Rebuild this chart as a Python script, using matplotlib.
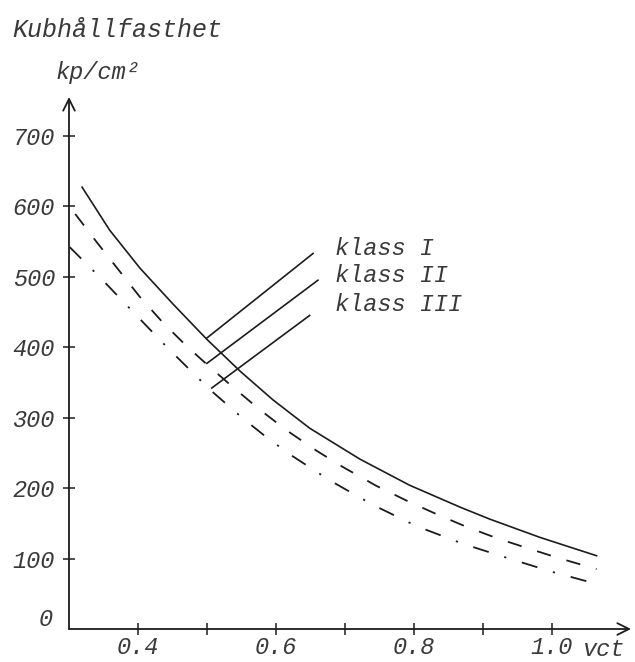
import matplotlib
matplotlib.use("Agg")
from matplotlib import pyplot as plt

# vct (water/cement ratio) vs cube strength kp/cm2
vct_1 = [0.319, 0.359, 0.403, 0.451, 0.500, 0.548, 0.596, 0.649, 0.722, 0.794,
         0.867, 0.910, 0.983, 1.065]
kl_1 = [627, 566, 512, 461, 411, 366, 325, 285, 241, 204, 173, 156, 130, 104]

vct_2 = [0.309, 0.341, 0.370, 0.403, 0.436, 0.471, 0.504, 0.538, 0.577, 0.617,
         0.659, 0.697, 0.746, 0.790, 0.833, 0.874, 0.920, 0.964, 1.009, 1.065]
kl_2 = [589, 548, 512, 471, 435, 401, 372, 343, 311, 281, 253, 230, 203, 182,
        163, 146, 129, 115, 101, 85]

vct_3 = [0.301, 0.346, 0.388, 0.443, 0.504, 0.552, 0.584, 0.620, 0.678, 0.741,
         0.804, 0.871, 0.935, 1.001, 1.065]
kl_3 = [542, 498, 455, 399, 340, 299, 274, 248, 211, 176, 146, 121, 101, 81, 64]

labels = ["klass I", "klass II", "klass III"]
label_x = [0.686, 0.686, 0.686]
label_y = [540, 501, 461]

# leader lines: (x0, x1), (y0, y1)
leader_x = [(0.654, 0.500), (0.661, 0.500), (0.649, 0.507)]
leader_y = [(533, 413), (495, 377), (445, 342)]

x_ticks = [0.4, 0.5, 0.6, 0.7, 0.8, 0.9, 1.0]
x_ticklabels = ["0.4", "", "0.6", "", "0.8", "", "1.0"]
y_ticks = [100, 200, 300, 400, 500, 600, 700]

INK = "#1c1c1c"
TXT = "#3a3a3a"
FONT = dict(family="Liberation Mono", style="italic", color=TXT)
FS = 17

fig = plt.figure(figsize=(6.35, 6.62), dpi=100)
ax = fig.add_axes([69 / 635, 33 / 662, 562 / 635, 532 / 662])
ax.set_xlim(0.3, 1.115)
ax.set_ylim(0, 755)

ax.plot(vct_1, kl_1, color=INK, lw=1.2)
ax.plot(vct_2, kl_2, color=INK, lw=1.3, linestyle=(0, (8, 9)))
ax.plot(vct_3, kl_3, color=INK, lw=1.3, linestyle=(0, (9, 9, 1.2, 9)))

for lx, ly in zip(leader_x, leader_y):
    ax.plot(lx, ly, color=INK, lw=1.2)
for t, x, y in zip(labels, label_x, label_y):
    ax.text(x, y, t, fontsize=FS, ha="left", va="center", **FONT)

for s in ax.spines.values():
    s.set_visible(False)
arrow = dict(arrowstyle="->,head_length=0.7,head_width=0.35", color=INK,
             lw=1.3, shrinkA=0, shrinkB=0, mutation_scale=12)
ax.annotate("", xy=(1.115, 0), xytext=(0.3, 0), arrowprops=arrow,
            annotation_clip=False)
ax.annotate("", xy=(0.3, 755), xytext=(0.3, 0), arrowprops=arrow,
            annotation_clip=False)

ax.set_xticks(x_ticks)
ax.set_xticklabels(x_ticklabels)
ax.set_yticks(y_ticks)
ax.set_yticklabels([str(v) for v in y_ticks])
ax.tick_params(direction="inout", length=8, width=1.1, color=INK, pad=6)
ax.tick_params(axis="x", pad=1)
for lab in ax.get_xticklabels() + ax.get_yticklabels():
    lab.set_fontfamily("Liberation Mono")
    lab.set_fontstyle("italic")
    lab.set_fontsize(FS)
    lab.set_color(TXT)

ax.text(0.2768, 13, "0", fontsize=FS, ha="right", va="center", **FONT)
ax.text(1.045, -29, "vct", fontsize=FS, ha="left", va="center", **FONT)

fig.text(12 / 635, 1 - 30 / 662, "Kubhållfasthet", fontsize=FS + 1,
         ha="left", va="center", **FONT)
fig.text(55 / 635, 1 - 72 / 662, "kp/cm²", fontsize=FS,
         ha="left", va="center", **FONT)

fig.savefig("out.png", dpi=100, facecolor="white")
